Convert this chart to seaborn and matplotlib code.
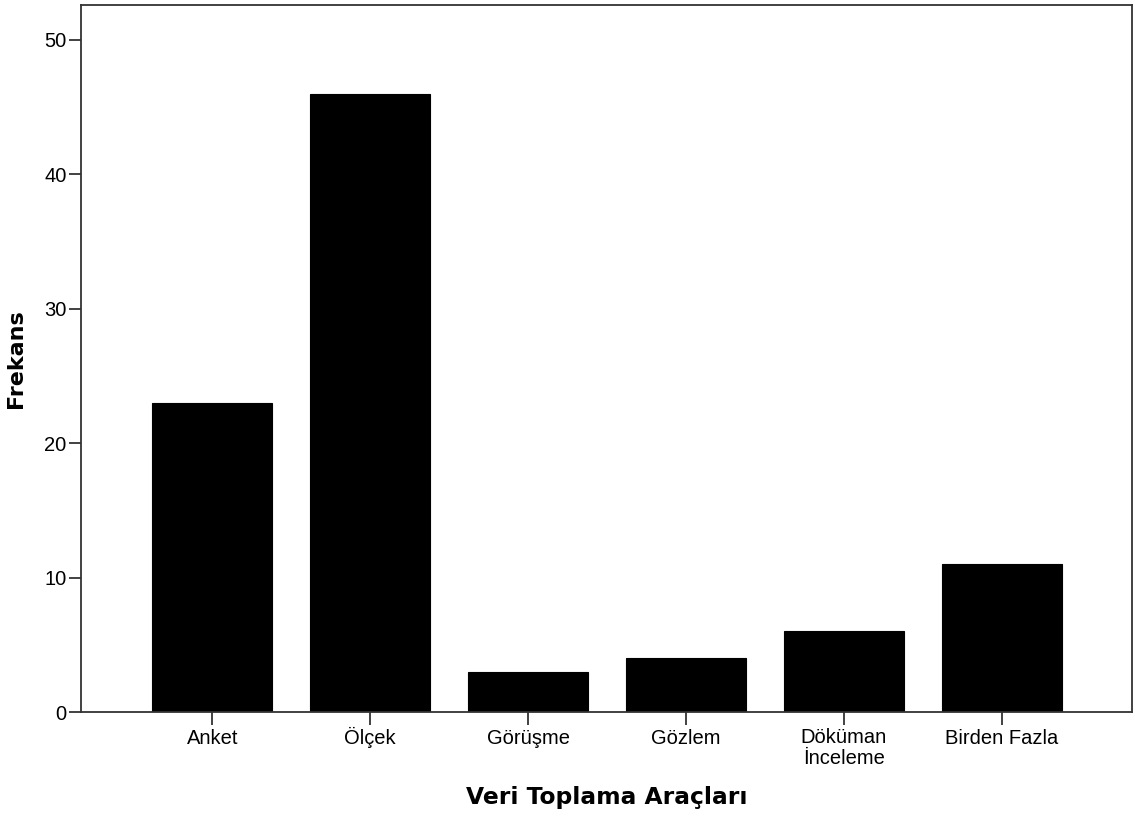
import matplotlib
matplotlib.use('Agg')
import matplotlib.pyplot as plt
import matplotlib.transforms as mtransforms
import seaborn as sns
import pandas as pd

categories = ['Anket', 'Ölçek', 'Görüşme', 'Gözlem', 'Döküman\nİnceleme', 'Birden Fazla']
frekans = [23, 46, 3, 4, 6, 11]
yticks = [0, 10, 20, 30, 40, 50]

df = pd.DataFrame({'arac': categories, 'frekans': frekans})

sns.set_style('white')
plt.rcParams['font.family'] = ['Liberation Sans', 'DejaVu Sans']

fig = plt.figure(figsize=(11.35, 8.17), dpi=100)
ax = fig.add_axes([81 / 1135, 1 - 712 / 817, 1051 / 1135, 707 / 817])

sns.barplot(data=df, x='arac', y='frekans', color='black', width=0.76,
            edgecolor='black', linewidth=0.8, saturation=1, ax=ax)

ax.set_xlim(-0.833, 5.826)
ax.set_ylim(0, 52.6)
ax.set_yticks(yticks)

for side in ['left', 'right', 'top', 'bottom']:
    ax.spines[side].set_visible(True)
    ax.spines[side].set_color('#333333')
    ax.spines[side].set_linewidth(1.3)

ax.tick_params(axis='both', direction='out', length=9, width=1.3, color='#333333',
               labelsize=14.5, labelcolor='black', bottom=True, left=True)
ax.tick_params(axis='y', pad=1.5)
# baseline alignment so the dotted capitals (Ö, İ) don't push labels down
ax.tick_params(axis='x', pad=14)
line_gap = 20 / 100  # inches between the two lines of the wrapped label
for lab in ax.get_xticklabels():
    lab.set_va('baseline')
    lab.set_linespacing(1.1)
    if '\n' in lab.get_text():
        # matplotlib puts the last line on the baseline, push it down one line
        shift = mtransforms.ScaledTranslation(0, -line_gap, fig.dpi_scale_trans)
        lab.set_transform(lab.get_transform() + shift)

ax.set_xlabel('Veri Toplama Araçları', fontsize=16.8, fontweight='bold',
              family='DejaVu Sans', color='black')
ax.set_ylabel('Frekans', fontsize=16, fontweight='bold', family='DejaVu Sans', color='black')
ax.xaxis.set_label_coords(0.5, -0.105)
ax.yaxis.set_label_coords(-0.062, 0.5)
ax.yaxis.label.set_va('center')
ax.xaxis.label.set_va('top')

fig.savefig('out.png', dpi=100)
